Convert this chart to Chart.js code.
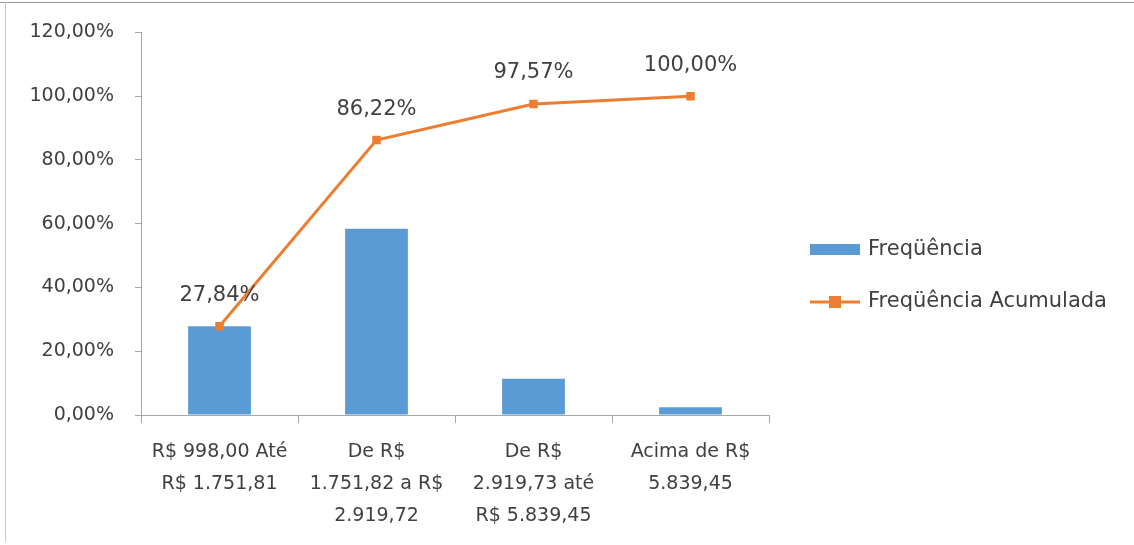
<!DOCTYPE html>
<html>
<head>
<meta charset="utf-8">
<script src="https://cdn.jsdelivr.net/npm/chart.js@4"></script>
<style>
html, body { margin: 0; padding: 0; background: #fff; }
.moldura { position: relative; width: 1134px; height: 545px; }
.moldura::before { content: ''; position: absolute; left: 0; top: 2px; width: 1134px; height: 1px; background: #9a9a9a; }
.moldura::after { content: ''; position: absolute; left: 5px; top: 2px; width: 1px; height: 540px; background: #c8c8c8; }
canvas { display: block; }
</style>
</head>
<body>
<div class="moldura">
<canvas id="grafico" width="1134" height="545"></canvas>
</div>
<script>
const faixas = [
	['R$ 998,00 Até', 'R$ 1.751,81'],
	['De R$', '1.751,82 a R$', '2.919,72'],
	['De R$', '2.919,73 até', 'R$ 5.839,45'],
	['Acima de R$', '5.839,45']
];
const frequencia = [27.84, 58.38, 11.35, 2.43];
const acumulada = [27.84, 86.22, 97.57, 100.00];
const ticksY = [0, 20, 40, 60, 80, 100, 120];

const azul = '#5b9bd5';
const laranja = '#ed7d31';
const corTexto = '#404040';
const fonte = "'DejaVu Sans', sans-serif";
const tamanho = 19;

function formatarPct(v) {
	return v.toFixed(2).replace('.', ',') + '%';
}

// rotulos acima dos pontos da linha
const rotulosLinha = {
	id: 'rotulosLinha',
	afterDatasetsDraw(chart) {
		const ctx = chart.ctx;
		const meta = chart.getDatasetMeta(1);
		ctx.save();
		ctx.font = '21px ' + fonte;
		ctx.fillStyle = corTexto;
		ctx.textAlign = 'center';
		ctx.textBaseline = 'middle';
		meta.data.forEach((p, i) => {
			ctx.fillText(formatarPct(acumulada[i]), p.x, p.y - 31);
		});
		ctx.restore();
	}
};

// legenda a direita, no estilo do excel
const legendaDireita = {
	id: 'legendaDireita',
	afterDraw(chart) {
		const ctx = chart.ctx;
		const x = 810;
		ctx.save();
		ctx.font = '21px ' + fonte;
		ctx.textBaseline = 'middle';

		const d0 = chart.data.datasets[0];
		ctx.fillStyle = d0.backgroundColor;
		ctx.fillRect(x, 244, 50, 11);
		ctx.fillStyle = corTexto;
		ctx.fillText(d0.label, x + 58, 250);

		const d1 = chart.data.datasets[1];
		ctx.strokeStyle = d1.borderColor;
		ctx.lineWidth = 3;
		ctx.beginPath();
		ctx.moveTo(x, 302);
		ctx.lineTo(x + 50, 302);
		ctx.stroke();
		ctx.fillStyle = d1.borderColor;
		ctx.fillRect(x + 19, 296, 12, 12);
		ctx.fillStyle = corTexto;
		ctx.fillText(d1.label, x + 58, 302);
		ctx.restore();
	}
};

const ctx = document.getElementById('grafico').getContext('2d');
new Chart(ctx, {
	type: 'bar',
	data: {
		labels: faixas,
		datasets: [
			{
				type: 'bar',
				label: 'Freqüência',
				data: frequencia,
				backgroundColor: azul,
				categoryPercentage: 1,
				barPercentage: 0.4,
				order: 2
			},
			{
				type: 'line',
				label: 'Freqüência Acumulada',
				data: acumulada,
				borderColor: laranja,
				backgroundColor: laranja,
				borderWidth: 3,
				pointStyle: 'rect',
				pointRadius: 6,
				pointBorderWidth: 0,
				tension: 0,
				order: 1
			}
		]
	},
	options: {
		responsive: false,
		animation: false,
		layout: {
			padding: { top: 32, right: 365, bottom: 0, left: 0 }
		},
		scales: {
			x: {
				offset: true,
				grid: {
					offset: true,
					drawOnChartArea: false,
					tickLength: 8,
					color: '#a6a6a6'
				},
				border: { color: '#a6a6a6', width: 1 },
				ticks: {
					color: corTexto,
					padding: 13,
					maxRotation: 0,
					font: { family: fonte, size: tamanho, lineHeight: 1.68 }
				},
				afterFit(scale) { scale.height = 130; }
			},
			y: {
				min: 0,
				max: 120,
				afterBuildTicks(scale) {
					scale.ticks = ticksY.map(v => ({ value: v }));
				},
				grid: {
					drawOnChartArea: false,
					tickLength: 6,
					color: '#a6a6a6'
				},
				border: { color: '#a6a6a6', width: 1 },
				ticks: {
					color: corTexto,
					padding: 21,
					font: { family: fonte, size: tamanho },
					callback: v => formatarPct(v)
				},
				afterFit(scale) { scale.width = 141; }
			}
		},
		plugins: {
			legend: { display: false },
			tooltip: { enabled: false }
		}
	},
	plugins: [rotulosLinha, legendaDireita]
});
</script>
</body>
</html>
